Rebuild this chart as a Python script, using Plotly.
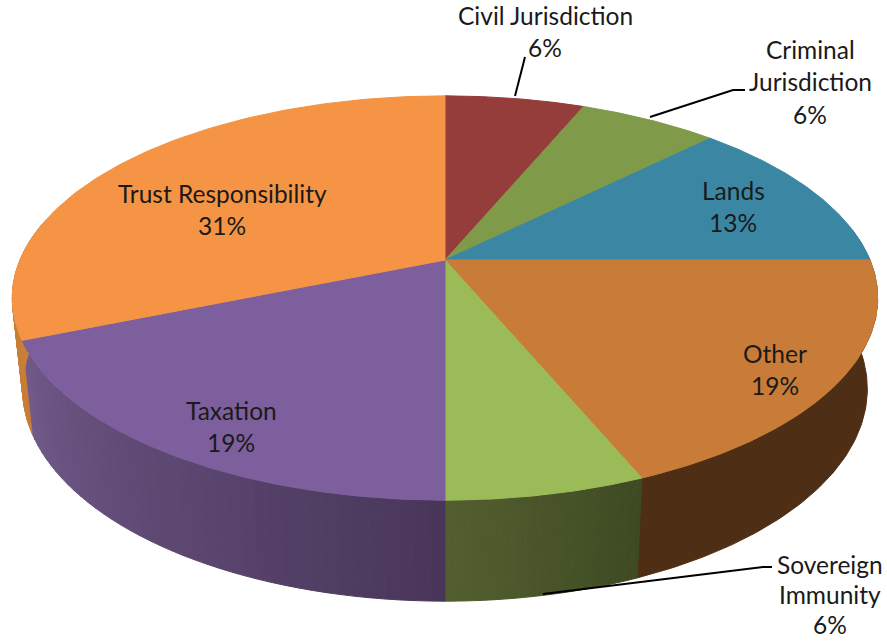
import numpy as np
import plotly.graph_objects as go

# ---- data ----
categories = ["Civil Jurisdiction", "Criminal Jurisdiction", "Lands", "Other",
              "Sovereign Immunity", "Taxation", "Trust Responsibility"]
values = [1, 1, 2, 3, 1, 3, 5]
label_lines = [["Civil Jurisdiction", "6%"], ["Criminal", "Jurisdiction", "6%"], ["Lands", "13%"],
               ["Other", "19%"], ["Sovereign", "Immunity", "6%"], ["Taxation", "19%"],
               ["Trust Responsibility", "31%"]]

# ---- style ----
top_colors = ["#953d3b", "#7f9a48", "#3b87a3", "#c87c37", "#9bbb59", "#7e5f9d", "#f59445"]
wall_from = ["#6e2d2c", "#5e7235", "#2b6478", "#4f2e16", "#3e4a22", "#493659", "#c67c38"]
wall_to = ["#6e2d2c", "#5e7235", "#2b6478", "#4f2e16", "#545f30", "#705a8a", "#cf8138"]

# ---- layout of the projection (pixels on the axes) ----
CX, CY = 445, 260
A, B, K = 425, 195, 0.188
LOW_X, LOW_Y0, LOW_S = 0.976, 349, 1.05
label_x = [545, 810, 733, 775, 830, 231, 222]
label_y = [15, 49, 190, 353, 564, 410, 193]
line_step = [32.5, 32.5, 32.5, 32.5, 30, 32.5, 32.5]
leaders = [([525, 515], [57, 96]),
           ([745, 733, 650], [90, 90, 117]),
           ([772, 763, 543], [567, 567, 594])]


def rim(theta):
    d = 1 + K * np.cos(theta)
    return CX + A * np.sin(theta) / d, CY - B * np.cos(theta) / d


def low_rim(theta):
    x, y = rim(theta)
    return CX + LOW_X * (x - CX), LOW_Y0 + LOW_S * (y - CY)


def hex2rgb(c):
    return np.array([int(c[i:i + 2], 16) for i in (1, 3, 5)], float)


def mix(a, b, t):
    r = hex2rgb(a) * (1 - t) + hex2rgb(b) * t
    return "rgb(%d,%d,%d)" % tuple(r.round())


edges = np.cumsum([0] + values) / sum(values) * 2 * np.pi
fig = go.Figure()


def poly(x, y, color):
    fig.add_trace(go.Scatter(x=list(x), y=list(y), mode="lines", fill="toself", fillcolor=color,
                             line=dict(color=color, width=1), hoverinfo="skip", showlegend=False))


# side walls, only the part facing the viewer
for i, name in enumerate(categories):
    a0, a1 = max(edges[i], np.pi * 0.45), min(edges[i + 1], np.pi * 1.56)
    if a1 <= a0:
        continue
    strips = 40 if wall_from[i] != wall_to[i] else 1
    fine = 80 if strips == 1 else 4
    for s in range(strips):
        th = np.linspace(a0 + (a1 - a0) * s / strips, a0 + (a1 - a0) * (s + 1) / strips, fine)
        tx, ty = rim(th)
        lx, ly = low_rim(th[::-1])
        poly(np.r_[tx, lx, tx[0]], np.r_[ty, ly, ty[0]],
             mix(wall_from[i], wall_to[i], (s + 0.5) / strips))

# top face
for i, name in enumerate(categories):
    th = np.linspace(edges[i], edges[i + 1], 120)
    tx, ty = rim(th)
    poly(np.r_[CX, tx, CX], np.r_[CY, ty, CY], top_colors[i])

# leader lines
for lx, ly in leaders:
    fig.add_trace(go.Scatter(x=lx, y=ly, mode="lines", line=dict(color="#000000", width=2),
                             hoverinfo="skip", showlegend=False))

# labels
for i, lines in enumerate(label_lines):
    for j, t in enumerate(lines):
        fig.add_annotation(x=label_x[i], y=label_y[i] + j * line_step[i], text=t, showarrow=False,
                           xanchor="center", yanchor="middle",
                           font=dict(family="Lato", size=24.5, color="#1a1a1a"))

fig.update_xaxes(range=[0, 887], visible=False, fixedrange=True)
fig.update_yaxes(range=[641, 0], visible=False, fixedrange=True)
fig.update_layout(width=887, height=641, margin=dict(l=0, r=0, t=0, b=0),
                  paper_bgcolor="white", plot_bgcolor="white", showlegend=False)
fig.write_html("out.html", config={"displayModeBar": False},
               post_script="document.body.style.margin='0';document.body.style.overflow='hidden';")
